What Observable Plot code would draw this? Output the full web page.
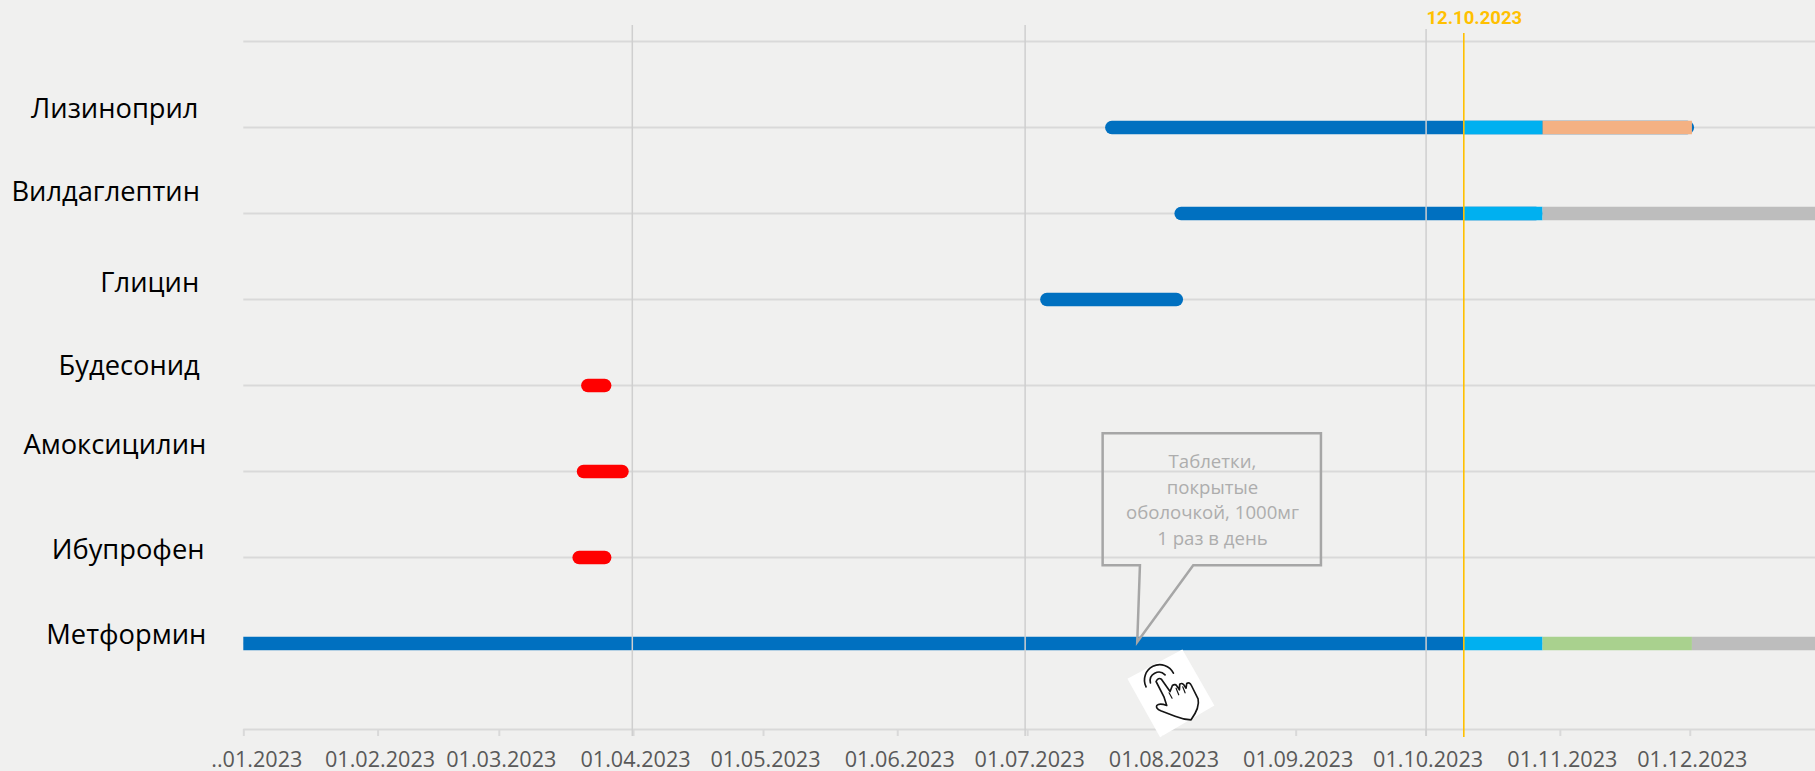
<!DOCTYPE html>
<html><head><meta charset="utf-8">
<script src="https://cdn.jsdelivr.net/npm/d3@7"></script>
<script src="https://cdn.jsdelivr.net/npm/@observablehq/plot@0.6"></script>
<style>html,body{margin:0;padding:0;background:#f0f0ef;overflow:hidden}svg{display:block}</style>
</head><body><div id="chart"></div>
<script>
const drugs = ["Лизиноприл","Вилдаглептин","Глицин","Будесонид","Амоксицилин","Ибупрофен","Метформин"];
const rows = ["верх", ...drugs, "ось"];
const months = ["2023-02-01","2023-03-01","2023-04-01","2023-05-01","2023-06-01","2023-07-01","2023-08-01","2023-09-01","2023-10-01","2023-11-01","2023-12-01"];
const gridMonths = ["2023-03-31T17:00Z","2023-06-30T10:00Z"];
const startDate = "2023-01-01", endDate = "2023-12-29T22:00Z";
const todayDate = "2023-10-09T17:00Z";
const planEnd = "2023-10-28";
// rounded courses
const roundedDrug  = ["Лизиноприл","Вилдаглептин","Глицин","Будесонид","Амоксицилин","Ибупрофен"];
const roundedStart = ["2023-07-19","2023-08-04","2023-07-04","2023-03-20","2023-03-19","2023-03-18"];
const roundedEnd   = ["2023-12-02","2023-10-28","2023-08-06","2023-03-27","2023-03-31","2023-03-27"];
const roundedKind  = ["past","past","past","stop","stop","stop"];
// square segments
const segDrug  = ["Метформин","Метформин","Метформин","Метформин","Лизиноприл","Лизиноприл","Вилдаглептин","Вилдаглептин"];
const segStart = [startDate,todayDate,planEnd,"2023-12-01T12:00Z",todayDate,planEnd,todayDate,planEnd];
const segEnd   = [todayDate,planEnd,"2023-12-01T12:00Z",endDate,planEnd,"2023-12-01T12:00Z",planEnd,endDate];
const segKind  = ["past","plan","next","open","plan","switch","plan","open"];
const kindNames  = ["past","plan","next","open","switch","stop"];
const kindColors = ["#0070c0","#00b0f0","#a9d18e","#bdbdbd","#f4b183","#ff0000"];
const labelDx = [-45.3,-43.8,-44.6,-44,-37.5,-39.3,-37.5];
const labelDy = [-18,-21,-16,-19,-26,-7,-8];
const noteLines = "Таблетки,\nпокрытые\nоболочкой, 1000мг\n1 раз в день";
const noteDate = "2023-07-26T10:00Z";

const D = s => new Date(s);
const rounded = roundedDrug.map((d,i)=>({y:d,x1:D(roundedStart[i]),x2:D(roundedEnd[i]),k:roundedKind[i]}));
const segs = segDrug.map((d,i)=>({y:d,x1:D(segStart[i]),x2:D(segEnd[i]),k:segKind[i]}));
const BAR = 13.5, FONT = "'Open Sans',sans-serif";

const callout = (index,{x,y}) => {
  const tx = x(D(noteDate)), ty = y("Метформин") - 1;
  const pts = [[-34.6,-208.7],[183.7,-208.7],[183.7,-76.7],[56,-76.7],[0,0],[2.7,-76.7],[-34.6,-76.7]];
  const p = d3.create("svg:path")
    .attr("d","M"+pts.map(q=>[q[0]+tx,q[1]+ty].join(",")).join("L")+"Z")
    .attr("fill","none").attr("stroke","#a6a6a6").attr("stroke-width",2.5);
  return p.node();
};
const hand = (index,{x,y}) => {
  const cx = x(D(noteDate))+33.5, cy = y("Метформин")+50.5;
  const g = d3.create("svg:g").attr("transform",`translate(${cx},${cy}) scale(0.3333) translate(-152,-144)`);
  g.append("path").attr("d","M187,12L283,180L120,275L22,100Z").attr("fill","#fff");
  const s = g.append("g").attr("fill","none").attr("stroke","#151515").attr("stroke-width",5).attr("stroke-linejoin","round").attr("stroke-linecap","round");
  s.append("path").attr("d","M108,108Q114,95 124,101L150,138L157,120Q166,113 172,124L178,133L179,116Q188,110 194,122L198,128L200,114Q208,108 214,120L234,160Q240,185 213,223Q190,222 165,212L122,196Q106,188 110,180Q118,172 140,180L132,155Z");
  s.append("path").attr("stroke-width",3.5).attr("d","M147,142L156,158M168,128L176,148M188,124L195,142");
  s.append("path").attr("d","M91,112A26,26 0 0 1 135,88");
  s.append("path").attr("d","M78,124A42,42 0 0 1 160,83");
  return g.node();
};

const plot = Plot.plot({
  width:1815,height:771,marginLeft:243.3,marginRight:0,marginTop:0,marginBottom:0,
  style:{background:"#f0f0ef",fontFamily:FONT,overflow:"visible"},
  x:{type:"utc",domain:[D(startDate),D(endDate)],axis:null},
  y:{type:"point",domain:rows,range:[41,729],padding:0,axis:null},
  color:{domain:kindNames,range:kindColors},
  marks:[
    Plot.ruleY(rows,{y:d=>d,stroke:"#d9d9d9",strokeWidth:2}),
    Plot.ruleX([D(startDate),...months.map(D)],{stroke:"#d9d9d9",strokeWidth:2,insetTop:729,insetBottom:35}),
    Plot.ruleY(rounded,{y:"y",x1:"x1",x2:"x2",inset:BAR/2,stroke:"k",strokeWidth:BAR,strokeLinecap:"round"}),
    Plot.ruleY(segs,{y:"y",x1:"x1",x2:"x2",stroke:"k",strokeWidth:BAR}),
    Plot.ruleX(gridMonths.map(D),{stroke:"#cfcfcf",strokeWidth:1.5,insetTop:25,insetBottom:35}),
    Plot.ruleX([D("2023-10-01")],{stroke:"#cfcfcf",strokeWidth:1.5,insetTop:29,insetBottom:35}),
    Plot.ruleX([D(todayDate)],{stroke:"#ffc000",strokeWidth:1.6,insetTop:33,insetBottom:34}),
    Plot.text(["12.10.2023"],{x:()=>D(todayDate),frameAnchor:"top",dy:10,dx:10.5,fill:"#ffc000",fontWeight:700,fontSize:18.5,fontFamily:"Roboto"}),
    Plot.text(drugs,{x:()=>D(startDate),y:d=>d,text:d=>d,textAnchor:"end",fill:"#000",fontSize:27.3,
      render:(i,s,v,dim,ctx,next)=>{const g=next(i,s,v,dim,ctx);
        d3.select(g).selectAll("text").attr("transform",(_,j)=>`translate(${s.x(D(startDate))+labelDx[j]},${s.y(drugs[j])+labelDy[j]})`);return g;}}),
    Plot.axisX(months.map(D),{anchor:"bottom",tickSize:0,tickPadding:0,tickFormat:d3.utcFormat("%d.%m.%Y"),fontSize:21.6,fill:"#595959",dx:2,dy:-11,lineAnchor:"middle"}),
    Plot.axisX([D(startDate)],{anchor:"bottom",tickSize:0,tickPadding:0,tickFormat:()=>"..01.2023",fontSize:21.6,fill:"#595959",dx:13,dy:-11,lineAnchor:"middle"}),
    callout,
    Plot.text([noteLines],{x:()=>D(noteDate),y:()=>"Метформин",dx:74.7,dy:-145,fill:"#adadad",fontSize:18.6,lineHeight:1.37}),
    hand
  ]
});
document.getElementById("chart").appendChild(plot);
</script></body></html>
